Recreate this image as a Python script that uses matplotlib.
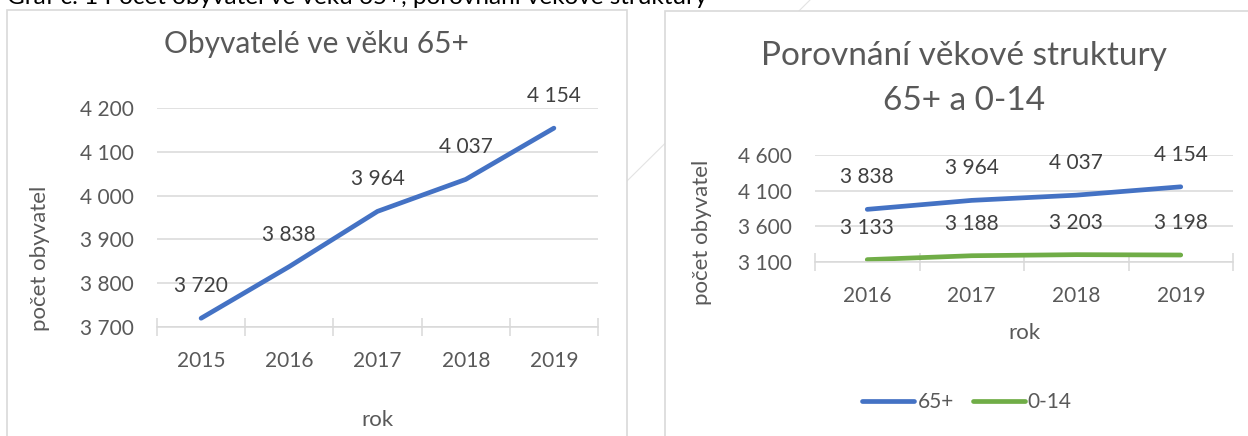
import matplotlib
matplotlib.use("Agg")
import matplotlib.pyplot as plt
from matplotlib.patches import Rectangle
from matplotlib.lines import Line2D

# ---- data ----
years_left = ["2015", "2016", "2017", "2018", "2019"]
pop65_left = [3720, 3838, 3964, 4037, 4154]

years_right = ["2016", "2017", "2018", "2019"]
pop65_right = [3838, 3964, 4037, 4154]
pop014_right = [3133, 3188, 3203, 3198]

yticks_left = [3700, 3800, 3900, 4000, 4100, 4200]
yticks_right = [3100, 3600, 4100, 4600]

caption = "Graf č. 1 Počet obyvatel ve věku 65+, porovnání věkové struktury"
title_left = "Obyvatelé ve věku 65+"
title_right_1 = "Porovnání věkové struktury"
title_right_2 = "65+ a 0-14"
xlabel = "rok"
ylabel = "počet obyvatel"
series_names = ["65+", "0-14"]

# ---- style ----
plt.rcParams['font.family'] = ['Lato', 'DejaVu Sans']
W, H = 1248, 436
BLUE = "#4472C4"
GREEN = "#70AD47"
GRID = "#D9D9D9"
TXT = "#595959"
LBL = "#404040"
TICK_FS = 15
AXT_FS = 16


def fx(x):
    return x / W


def fy(y):
    return 1 - y / H


def fmt(v):
    return f"{v:,}".replace(",", " ")


fig = plt.figure(figsize=(W / 100, H / 100), dpi=100)
fig.patch.set_facecolor("white")

# faint diagonal line (behind panels)
fig.add_artist(Line2D([fx(810), fx(627)], [fy(0), fy(181)], color="#E3E3E3", lw=0.8, zorder=0))

# panels
fig.add_artist(Rectangle((fx(7), fy(440)), fx(627 - 7), (440 - 10) / H, facecolor="white",
                         edgecolor=GRID, lw=1.2, zorder=1))
fig.add_artist(Rectangle((fx(665), fy(440)), fx(1260 - 665), (440 - 11) / H, facecolor="white",
                         edgecolor=GRID, lw=1.2, zorder=1))

# caption
fig.text(fx(7), fy(4), caption, ha="left", va="baseline", fontsize=17.5, color="black", zorder=3)


def style_axes(ax, ncat, yticks):
    ax.set_facecolor("none")
    for s in ["left", "right", "top"]:
        ax.spines[s].set_visible(False)
    ax.spines["bottom"].set_color(GRID)
    ax.spines["bottom"].set_linewidth(1.1)
    ax.set_xlim(-0.5, ncat - 0.5)
    ax.set_xticks([i - 0.5 for i in range(ncat + 1)])
    ax.set_xticklabels([])
    ax.tick_params(axis="x", which="major", direction="inout", length=13, width=1.1, color=GRID)
    ax.set_yticks(yticks)
    ax.set_yticklabels([fmt(v) for v in yticks])
    ax.set_ylim(yticks[0], yticks[-1])
    ax.tick_params(axis="y", length=0, pad=16.5, labelsize=TICK_FS, labelcolor=TXT)
    ax.grid(axis="y", color=GRID, lw=1.1)
    ax.set_axisbelow(True)


# ---- left chart ----
ax1 = fig.add_axes([fx(157), fy(327), fx(598 - 157), (327 - 108) / H], zorder=2)
style_axes(ax1, len(years_left), yticks_left)
ax1.set_xticks(range(len(years_left)), minor=True)
ax1.set_xticklabels(years_left, minor=True)
ax1.tick_params(axis="x", which="minor", length=0, pad=17, labelsize=TICK_FS, labelcolor=TXT)
ax1.plot(range(len(years_left)), pop65_left, color=BLUE, lw=3.4, solid_capstyle="round", clip_on=False)
for i, v in enumerate(pop65_left):
    ax1.annotate(fmt(v), (i, v), xytext=(0, 32), textcoords="offset pixels",
                 ha="center", va="center", fontsize=TICK_FS, color=LBL, annotation_clip=False)

fig.text(fx(316), fy(44), title_left, ha="center", va="center", fontsize=21.5, color=TXT)
fig.text(fx(377), fy(420), xlabel, ha="center", va="center", fontsize=AXT_FS, color=TXT)
fig.text(fx(40), fy(258), ylabel, ha="center", va="center", rotation=90, fontsize=AXT_FS, color=TXT)

# ---- right chart ----
ax2 = fig.add_axes([fx(815), fy(262), fx(1233 - 815), (262 - 155) / H], zorder=2)
style_axes(ax2, len(years_right), yticks_right)
ax2.set_xticks(range(len(years_right)), minor=True)
ax2.set_xticklabels(years_right, minor=True)
ax2.tick_params(axis="x", which="minor", length=0, pad=17, labelsize=TICK_FS, labelcolor=TXT)
l1, = ax2.plot(range(len(years_right)), pop65_right, color=BLUE, lw=3.4, solid_capstyle="round",
               clip_on=False, label=series_names[0])
l2, = ax2.plot(range(len(years_right)), pop014_right, color=GREEN, lw=3.4, solid_capstyle="round",
               clip_on=False, label=series_names[1])
for series in (pop65_right, pop014_right):
    for i, v in enumerate(series):
        ax2.annotate(fmt(v), (i, v), xytext=(0, 32), textcoords="offset pixels",
                     ha="center", va="center", fontsize=TICK_FS, color=LBL, annotation_clip=False)

fig.text(fx(964), fy(56), title_right_1, ha="center", va="center", fontsize=24, color=TXT)
fig.text(fx(964), fy(101), title_right_2, ha="center", va="center", fontsize=24, color=TXT)
fig.text(fx(1024), fy(333), xlabel, ha="center", va="center", fontsize=AXT_FS, color=TXT)
fig.text(fx(702), fy(232), ylabel, ha="center", va="center", rotation=90, fontsize=AXT_FS, color=TXT)

leg = fig.legend(handles=[l1, l2], loc="center", bbox_to_anchor=(fx(967), fy(402)),
                 bbox_transform=fig.transFigure, ncol=2, frameon=False, fontsize=TICK_FS,
                 handlelength=2.5, handletextpad=0.15, columnspacing=0.9, labelcolor=TXT)

fig.savefig("out.png", dpi=100, facecolor="white")
